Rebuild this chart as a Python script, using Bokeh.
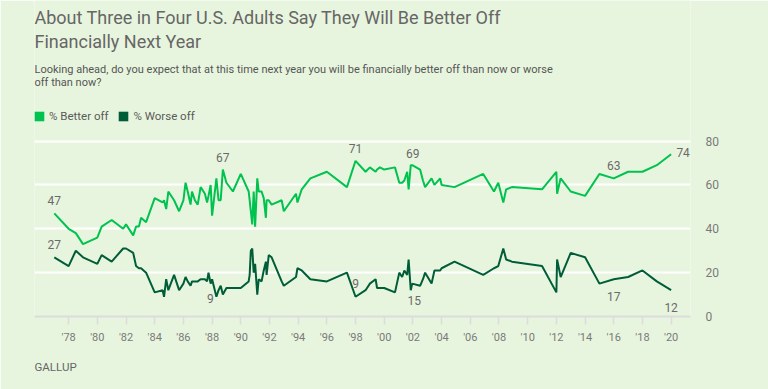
from bokeh.plotting import figure
from bokeh.models import (Range1d, FixedTicker, Label, LabelSet, ColumnDataSource,
                          Legend, LegendItem, Title)
from bokeh.core.properties import value
from bokeh.embed import file_html
from bokeh.resources import INLINE

# ---- data -------------------------------------------------------------
years = [1977.0, 1978.0, 1978.5, 1979.0, 1980.0, 1980.3, 1981.0, 1981.8, 1982.0, 1982.5,
         1982.7, 1982.9, 1983.05, 1983.4, 1984.0, 1984.55, 1984.65, 1984.8, 1984.95, 1985.35,
         1985.7, 1986.0, 1986.15, 1986.3, 1986.5, 1986.6, 1986.8, 1987.0, 1987.2, 1987.5,
         1987.65, 1987.75, 1987.9, 1988.0, 1988.3, 1988.45, 1988.6, 1988.75, 1989.0, 1989.45,
         1990.0, 1990.55, 1990.62, 1990.7, 1990.8, 1990.9, 1991.0, 1991.15, 1991.25, 1991.45,
         1991.6, 1991.75, 1991.8, 1991.95, 1992.15, 1992.85, 1993.0, 1993.85, 1993.95, 1994.25,
         1994.85, 1996.0, 1997.4, 1998.0, 1998.7, 1999.0, 1999.4, 1999.5, 1999.7, 2000.0,
         2000.75, 2001.05, 2001.25, 2001.4, 2001.6, 2001.7, 2001.85, 2001.95, 2002.5, 2002.7,
         2002.85, 2003.3, 2003.5, 2003.9, 2004.0, 2004.9, 2006.9, 2007.65, 2007.95, 2008.3,
         2008.5, 2008.9, 2011.0, 2012.0, 2012.05, 2012.3, 2013.0, 2014.0, 2015.0, 2016.0,
         2017.0, 2018.0, 2019.0, 2020.0]
better_off = [47, 40, 38, 33, 36, 41, 44, 40, 42, 37,
              41, 41, 45, 43, 54, 52, 53, 49, 57, 53,
              48, 53, 61, 57, 51, 57, 53, 51, 59, 56,
              52, 55, 60, 46, 63, 53, 53, 67, 61, 57,
              65, 57, 53, 48, 42, 57, 41, 63, 57, 57,
              54, 45, 53, 53, 51, 53, 48, 56, 52, 58,
              63, 66, 59, 71, 66, 68, 66, 67, 68, 67,
              68, 61, 61, 62, 66, 58, 69, 69, 67, 62,
              59, 63, 60, 63, 60, 59, 65, 57, 61, 52,
              58, 59, 58, 66, 56, 63, 57, 55, 65, 63,
              66, 66, 69, 74]
worse_off = [27, 23, 30, 27, 24, 28, 25, 31, 31, 29,
             23, 22, 22, 20, 11, 12, 9, 17, 12, 19,
             12, 15, 18, 16, 14, 16, 16, 16, 17, 17,
             16, 20, 15, 17, 9, 12, 14, 10, 13, 13,
             13, 16, 19, 30, 31, 20, 24, 10, 17, 16,
             21, 25, 19, 28, 27, 16, 14, 18, 22, 21,
             17, 16, 20, 9, 12, 15, 17, 13, 13, 13,
             11, 20, 18, 21, 19, 26, 12, 15, 14, 17,
             20, 15, 21, 21, 22, 25, 19, 22, 23, 31,
             26, 25, 23, 11, 26, 18, 29, 27, 15, 17,
             18, 21, 16, 12]

tick_years = list(range(1978, 2021, 2))
tick_labels = ["'78", "'80", "'82", "'84", "'86", "'88", "'90", "'92", "'94", "'96", "'98",
               "'00", "'02", "'04", "'06", "'08", "'10", "'12", "'14", "'16", "'18", "'20"]
y_ticks = [0, 20, 40, 60, 80]

label_years = [1977.0, 1977.0, 1988.75, 1988.3, 1998.0, 1998.0, 2001.85, 2001.95,
               2016.0, 2016.0, 2020.0, 2020.0]
label_values = [47, 27, 67, 9, 71, 9, 69, 15, 63, 17, 74, 12]
label_texts = ["47", "27", "67", "9", "71", "9", "69", "15", "63", "17", "74", "12"]

series_names = ["% Better off", "% Worse off"]

title_lines = ["About Three in Four U.S. Adults Say They Will Be Better Off",
               "Financially Next Year"]
subtitle_lines = ["Looking ahead, do you expect that at this time next year you will be financially better off than now or worse",
                  "off than now?"]
source_text = "GALLUP"

# ---- style ------------------------------------------------------------
BG = "#e8f5de"
LIGHT = "#00c24f"
DARK = "#005d38"
FONT = "Roboto"

# the plot frame reaches the top of the canvas so that the heading texts and the
# legend can sit inside it, above the 0-80 grid
p = figure(width=768, height=389, output_backend="svg", toolbar_location=None,
           x_range=Range1d(1975.62, 2021.35), y_range=Range1d(0, 144.1),
           y_axis_location="right",
           min_border_left=34, min_border_right=78, min_border_top=0,
           min_border_bottom=73)
p.background_fill_color = BG
p.border_fill_color = BG
p.outline_line_color = None

# grid
p.xgrid.visible = False
p.ygrid.ticker = FixedTicker(ticks=y_ticks[1:])
p.ygrid.grid_line_color = "white"
p.ygrid.grid_line_width = 2

# x axis
xa = p.xaxis[0]
xa.ticker = FixedTicker(ticks=tick_years)
xa.major_label_overrides = {y: l for y, l in zip(tick_years, tick_labels)}
xa.axis_line_color = "#dcdcdc"
xa.axis_line_width = 2
xa.major_tick_line_color = "#dcdcdc"
xa.major_tick_line_width = 1.5
xa.major_tick_in = 0
xa.major_tick_out = 8
xa.minor_tick_line_color = None
xa.major_label_standoff = 6
xa.major_label_text_font = FONT
xa.major_label_text_font_size = "11px"
xa.major_label_text_color = "#7a7a7a"

# y axis (right)
ya = p.yaxis[0]
ya.ticker = FixedTicker(ticks=y_ticks)
ya.axis_line_color = None
ya.major_tick_line_color = None
ya.minor_tick_line_color = None
ya.major_label_standoff = 9
ya.major_label_text_align = "right"
ya.major_label_text_font = FONT
ya.major_label_text_font_size = "12px"
ya.major_label_text_color = "#7a7a7a"

# lines
p.line(years, better_off, line_color=LIGHT, line_width=2)
p.line(years, worse_off, line_color=DARK, line_width=2)

# legend swatches: zero-area boxes used only for their legend glyph
sw1 = p.quad(left=years[:1], right=years[:1], top=better_off[:1], bottom=better_off[:1],
             fill_color=LIGHT, line_color=None)
sw2 = p.quad(left=years[:1], right=years[:1], top=worse_off[:1], bottom=worse_off[:1],
             fill_color=DARK, line_color=None)
legend = Legend(items=[LegendItem(label=series_names[0], renderers=[sw1]),
                       LegendItem(label=series_names[1], renderers=[sw2])],
                orientation="horizontal", location=(-1, 193),
                padding=0, margin=0, spacing=9, label_standoff=4,
                glyph_width=12, glyph_height=12, label_height=12,
                border_line_color=None, background_fill_alpha=0,
                label_text_font=FONT, label_text_font_size="11.5px",
                label_text_color="#5a5a5a")
p.add_layout(legend, "center")

# heading texts (screen units: from frame left / frame bottom)
def add_text(txt, sy, size, color):
    p.add_layout(Label(x=0, y=sy, x_units="screen", y_units="screen", text=txt,
                       text_font=FONT, text_font_size=size, text_color=color,
                       text_baseline="middle", text_align="left"))

add_text(title_lines[0], 299.3, "18px", "#666666")
add_text(title_lines[1], 275.3, "18px", "#666666")
add_text(subtitle_lines[0], 246.7, "11px", "#555555")
add_text(subtitle_lines[1], 234.3, "11px", "#555555")

# spacer between the axis and the source line, then the source line
p.add_layout(Title(text=" ", align="left", standoff=0, text_font=FONT,
                   text_font_size="8px", text_color=BG), "below")
p.add_layout(Title(text=source_text, align="left", standoff=0, text_font=FONT,
                   text_font_size="11.5px", text_color="#666666",
                   text_font_style="normal"), "below")

# data labels
lsrc = ColumnDataSource(dict(x=label_years, y=label_values, text=label_texts,
                             xo=[0, 0, 0, -6, 0, 0, 2, 2, 0, 0, 12, 0],
                             yo=[13, 13, 12.5, -2, 12, 13, 12, -17, 12.5, -17, 2, -17]))
p.add_layout(LabelSet(x="x", y="y", text="text", x_offset="xo", y_offset="yo",
                      source=lsrc, text_align="center", text_baseline="middle",
                      text_font=value(FONT), text_font_size="12px", text_color="#6a6a6a"))

open("out.html", "w").write(file_html(p, INLINE))
